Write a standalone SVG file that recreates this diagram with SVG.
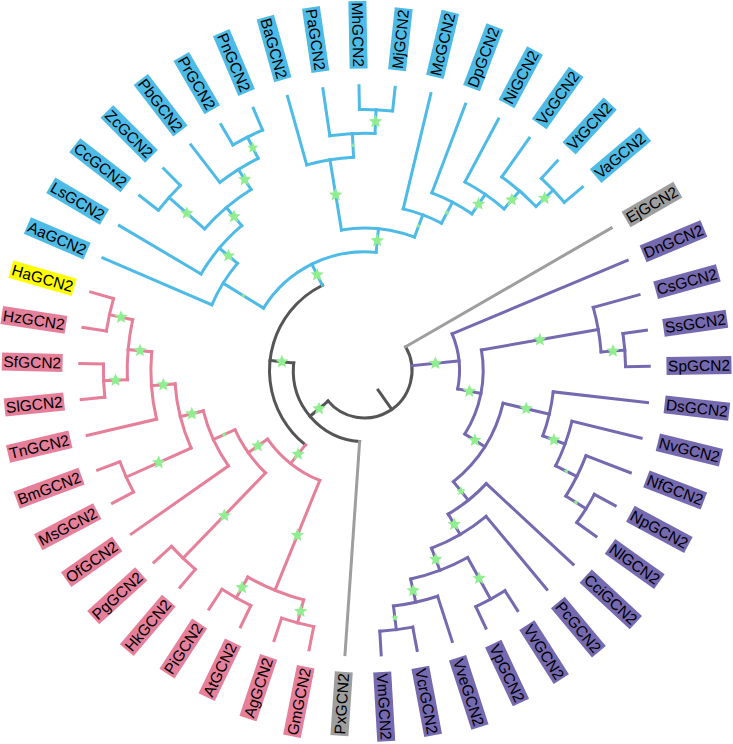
<svg xmlns="http://www.w3.org/2000/svg" xmlns:xlink="http://www.w3.org/1999/xlink" width="733" height="744" viewBox="0 0 733 744">
<defs>
<style>
#connectors line,#connectors circle{fill:none;stroke-width:3;stroke-linecap:square}
.d{stroke:#555555}.g{stroke:#9E9E9E}.b{stroke:#4EBBE6}.p{stroke:#E57F9A}.u{stroke:#7569B0}
.lb{fill:#4EBBE6}.lp{fill:#E57F9A}.lu{fill:#7569B0}.lg{fill:#9E9E9E}.ly{fill:#FFFF00}
text{font-family:"Liberation Sans",Arial,sans-serif;font-size:15.5px;fill:#000000}
.e{text-anchor:end}
</style>
<polygon id="star" fill="#90EE90" points="0,-1 0.265,-0.364 0.951,-0.309 0.428,0.139 0.588,0.809 0,0.45 -0.588,0.809 -0.428,0.139 -0.951,-0.309 -0.265,-0.364"/>
</defs>
<rect width="733" height="744" fill="#FFFFFF"/>
<g transform="translate(364.5,370.5)">
<g id="connectors">
<circle class="d" r="47.5" stroke-dasharray="140.93 2000" transform="rotate(-30)"/>
<circle class="d" r="71.2" stroke-dasharray="114.48 2000" transform="rotate(93.93)"/>
<circle class="d" r="95" stroke-dasharray="191.04 2000" transform="rotate(128.44)"/>
<line class="d" x1="23.8" x2="47.5" transform="rotate(55)"/>
<line class="d" x1="47.5" x2="71.2" transform="rotate(139.99)"/>
<line class="d" x1="71.2" x2="95" transform="rotate(186.05)"/>
<line class="g" x1="47.5" x2="284.8" transform="rotate(-30)"/>
<line class="g" x1="71.2" x2="284.8" transform="rotate(93.93)"/>
<circle class="b" r="118.7" stroke-dasharray="132.38 2000" transform="rotate(211.71)"/>
<circle class="b" r="166.2" stroke-dasharray="48.91 2000" transform="rotate(203.28)"/>
<circle class="b" r="189.9" stroke-dasharray="63.44 2000" transform="rotate(210.57)"/>
<circle class="b" r="213.6" stroke-dasharray="61.16 2000" transform="rotate(221.505)"/>
<circle class="b" r="261.1" stroke-dasharray="33.22 2000" transform="rotate(217.86)"/>
<circle class="b" r="237.3" stroke-dasharray="45.29 2000" transform="rotate(232.44)"/>
<circle class="b" r="261.1" stroke-dasharray="33.22 2000" transform="rotate(239.73)"/>
<circle class="b" r="142.4" stroke-dasharray="74.16 2000" transform="rotate(260.69)"/>
<circle class="b" r="213.6" stroke-dasharray="47.57 2000" transform="rotate(254.31)"/>
<circle class="b" r="237.3" stroke-dasharray="45.29 2000" transform="rotate(261.6)"/>
<circle class="b" r="261.1" stroke-dasharray="33.22 2000" transform="rotate(268.89)"/>
<circle class="b" r="166.2" stroke-dasharray="40.96 2000" transform="rotate(283.47)"/>
<circle class="b" r="189.9" stroke-dasharray="45.31 2000" transform="rotate(290.76)"/>
<circle class="b" r="213.6" stroke-dasharray="47.57 2000" transform="rotate(298.05)"/>
<circle class="b" r="237.3" stroke-dasharray="45.29 2000" transform="rotate(305.34)"/>
<circle class="b" r="261.1" stroke-dasharray="33.22 2000" transform="rotate(312.63)"/>
<line class="b" x1="95" x2="118.7" transform="rotate(243.66)"/>
<line class="b" x1="118.7" x2="166.2" transform="rotate(211.71)"/>
<line class="b" x1="166.2" x2="284.8" transform="rotate(203.28)"/>
<line class="b" x1="166.2" x2="189.9" transform="rotate(220.14)"/>
<line class="b" x1="189.9" x2="284.8" transform="rotate(210.57)"/>
<line class="b" x1="189.9" x2="213.6" transform="rotate(229.71)"/>
<line class="b" x1="213.6" x2="261.1" transform="rotate(221.505)"/>
<line class="b" x1="261.1" x2="284.8" transform="rotate(217.86)"/>
<line class="b" x1="261.1" x2="284.8" transform="rotate(225.15)"/>
<line class="b" x1="213.6" x2="237.3" transform="rotate(237.91)"/>
<line class="b" x1="237.3" x2="284.8" transform="rotate(232.44)"/>
<line class="b" x1="237.3" x2="261.1" transform="rotate(243.375)"/>
<line class="b" x1="261.1" x2="284.8" transform="rotate(239.73)"/>
<line class="b" x1="261.1" x2="284.8" transform="rotate(247.02)"/>
<line class="b" x1="118.7" x2="142.4" transform="rotate(275.61)"/>
<line class="b" x1="142.4" x2="213.6" transform="rotate(260.69)"/>
<line class="b" x1="213.6" x2="284.8" transform="rotate(254.31)"/>
<line class="b" x1="213.6" x2="237.3" transform="rotate(267.07)"/>
<line class="b" x1="237.3" x2="284.8" transform="rotate(261.6)"/>
<line class="b" x1="237.3" x2="261.1" transform="rotate(272.535)"/>
<line class="b" x1="261.1" x2="284.8" transform="rotate(268.89)"/>
<line class="b" x1="261.1" x2="284.8" transform="rotate(276.18)"/>
<line class="b" x1="142.4" x2="166.2" transform="rotate(290.53)"/>
<line class="b" x1="166.2" x2="284.8" transform="rotate(283.47)"/>
<line class="b" x1="166.2" x2="189.9" transform="rotate(297.59)"/>
<line class="b" x1="189.9" x2="284.8" transform="rotate(290.76)"/>
<line class="b" x1="189.9" x2="213.6" transform="rotate(304.43)"/>
<line class="b" x1="213.6" x2="284.8" transform="rotate(298.05)"/>
<line class="b" x1="213.6" x2="237.3" transform="rotate(310.81)"/>
<line class="b" x1="237.3" x2="284.8" transform="rotate(305.34)"/>
<line class="b" x1="237.3" x2="261.1" transform="rotate(316.275)"/>
<line class="b" x1="261.1" x2="284.8" transform="rotate(312.63)"/>
<line class="b" x1="261.1" x2="284.8" transform="rotate(319.92)"/>
<circle class="p" r="118.7" stroke-dasharray="67.49 2000" transform="rotate(112.155)"/>
<circle class="p" r="237.3" stroke-dasharray="60.39 2000" transform="rotate(104.865)"/>
<circle class="p" r="261.1" stroke-dasharray="33.22 2000" transform="rotate(101.22)"/>
<circle class="p" r="261.1" stroke-dasharray="33.22 2000" transform="rotate(115.8)"/>
<circle class="p" r="142.4" stroke-dasharray="53.22 2000" transform="rotate(134.025)"/>
<circle class="p" r="261.1" stroke-dasharray="33.22 2000" transform="rotate(130.38)"/>
<circle class="p" r="166.2" stroke-dasharray="60.8 2000" transform="rotate(144.96)"/>
<circle class="p" r="189.9" stroke-dasharray="66.44 2000" transform="rotate(155.895)"/>
<circle class="p" r="261.1" stroke-dasharray="33.22 2000" transform="rotate(152.25)"/>
<circle class="p" r="213.6" stroke-dasharray="67.94 2000" transform="rotate(166.83)"/>
<circle class="p" r="237.3" stroke-dasharray="60.39 2000" transform="rotate(177.765)"/>
<circle class="p" r="261.1" stroke-dasharray="33.22 2000" transform="rotate(174.12)"/>
<circle class="p" r="261.1" stroke-dasharray="33.22 2000" transform="rotate(188.7)"/>
<line class="p" x1="95" x2="118.7" transform="rotate(128.44)"/>
<line class="p" x1="118.7" x2="237.3" transform="rotate(112.155)"/>
<line class="p" x1="237.3" x2="261.1" transform="rotate(104.865)"/>
<line class="p" x1="261.1" x2="284.8" transform="rotate(101.22)"/>
<line class="p" x1="261.1" x2="284.8" transform="rotate(108.51)"/>
<line class="p" x1="237.3" x2="261.1" transform="rotate(119.445)"/>
<line class="p" x1="261.1" x2="284.8" transform="rotate(115.8)"/>
<line class="p" x1="261.1" x2="284.8" transform="rotate(123.09)"/>
<line class="p" x1="118.7" x2="142.4" transform="rotate(144.73)"/>
<line class="p" x1="142.4" x2="261.1" transform="rotate(134.025)"/>
<line class="p" x1="261.1" x2="284.8" transform="rotate(130.38)"/>
<line class="p" x1="261.1" x2="284.8" transform="rotate(137.67)"/>
<line class="p" x1="142.4" x2="166.2" transform="rotate(155.44)"/>
<line class="p" x1="166.2" x2="284.8" transform="rotate(144.96)"/>
<line class="p" x1="166.2" x2="189.9" transform="rotate(165.92)"/>
<line class="p" x1="189.9" x2="261.1" transform="rotate(155.895)"/>
<line class="p" x1="261.1" x2="284.8" transform="rotate(152.25)"/>
<line class="p" x1="261.1" x2="284.8" transform="rotate(159.54)"/>
<line class="p" x1="189.9" x2="213.6" transform="rotate(175.94)"/>
<line class="p" x1="213.6" x2="284.8" transform="rotate(166.83)"/>
<line class="p" x1="213.6" x2="237.3" transform="rotate(185.055)"/>
<line class="p" x1="237.3" x2="261.1" transform="rotate(177.765)"/>
<line class="p" x1="261.1" x2="284.8" transform="rotate(174.12)"/>
<line class="p" x1="261.1" x2="284.8" transform="rotate(181.41)"/>
<line class="p" x1="237.3" x2="261.1" transform="rotate(192.345)"/>
<line class="p" x1="261.1" x2="284.8" transform="rotate(188.7)"/>
<line class="p" x1="261.1" x2="284.8" transform="rotate(195.99)"/>
<circle class="u" r="95" stroke-dasharray="56.19 2000" transform="rotate(-22.71)"/>
<circle class="u" r="118.7" stroke-dasharray="87.55 2000" transform="rotate(-9.95)"/>
<circle class="u" r="237.3" stroke-dasharray="45.29 2000" transform="rotate(-15.42)"/>
<circle class="u" r="261.1" stroke-dasharray="33.22 2000" transform="rotate(-8.13)"/>
<circle class="u" r="142.4" stroke-dasharray="94.57 2000" transform="rotate(13.28)"/>
<circle class="u" r="189.9" stroke-dasharray="45.31 2000" transform="rotate(6.45)"/>
<circle class="u" r="213.6" stroke-dasharray="47.57 2000" transform="rotate(13.74)"/>
<circle class="u" r="237.3" stroke-dasharray="45.29 2000" transform="rotate(21.03)"/>
<circle class="u" r="261.1" stroke-dasharray="33.22 2000" transform="rotate(28.32)"/>
<circle class="u" r="166.2" stroke-dasharray="48.91 2000" transform="rotate(42.9)"/>
<circle class="u" r="189.9" stroke-dasharray="63.44 2000" transform="rotate(50.19)"/>
<circle class="u" r="213.6" stroke-dasharray="61.16 2000" transform="rotate(61.125)"/>
<circle class="u" r="261.1" stroke-dasharray="33.22 2000" transform="rotate(57.48)"/>
<circle class="u" r="237.3" stroke-dasharray="45.29 2000" transform="rotate(72.06)"/>
<circle class="u" r="261.1" stroke-dasharray="33.22 2000" transform="rotate(79.35)"/>
<line class="u" x1="47.5" x2="95" transform="rotate(-5.765)"/>
<line class="u" x1="95" x2="284.8" transform="rotate(-22.71)"/>
<line class="u" x1="95" x2="118.7" transform="rotate(11.18)"/>
<line class="u" x1="118.7" x2="237.3" transform="rotate(-9.95)"/>
<line class="u" x1="237.3" x2="284.8" transform="rotate(-15.42)"/>
<line class="u" x1="237.3" x2="261.1" transform="rotate(-4.485)"/>
<line class="u" x1="261.1" x2="284.8" transform="rotate(-8.13)"/>
<line class="u" x1="261.1" x2="284.8" transform="rotate(-0.84)"/>
<line class="u" x1="118.7" x2="142.4" transform="rotate(32.31)"/>
<line class="u" x1="142.4" x2="189.9" transform="rotate(13.28)"/>
<line class="u" x1="189.9" x2="284.8" transform="rotate(6.45)"/>
<line class="u" x1="189.9" x2="213.6" transform="rotate(20.12)"/>
<line class="u" x1="213.6" x2="284.8" transform="rotate(13.74)"/>
<line class="u" x1="213.6" x2="237.3" transform="rotate(26.5)"/>
<line class="u" x1="237.3" x2="284.8" transform="rotate(21.03)"/>
<line class="u" x1="237.3" x2="261.1" transform="rotate(31.965)"/>
<line class="u" x1="261.1" x2="284.8" transform="rotate(28.32)"/>
<line class="u" x1="261.1" x2="284.8" transform="rotate(35.61)"/>
<line class="u" x1="142.4" x2="166.2" transform="rotate(51.33)"/>
<line class="u" x1="166.2" x2="284.8" transform="rotate(42.9)"/>
<line class="u" x1="166.2" x2="189.9" transform="rotate(59.76)"/>
<line class="u" x1="189.9" x2="284.8" transform="rotate(50.19)"/>
<line class="u" x1="189.9" x2="213.6" transform="rotate(69.33)"/>
<line class="u" x1="213.6" x2="261.1" transform="rotate(61.125)"/>
<line class="u" x1="261.1" x2="284.8" transform="rotate(57.48)"/>
<line class="u" x1="261.1" x2="284.8" transform="rotate(64.77)"/>
<line class="u" x1="213.6" x2="237.3" transform="rotate(77.53)"/>
<line class="u" x1="237.3" x2="284.8" transform="rotate(72.06)"/>
<line class="u" x1="237.3" x2="261.1" transform="rotate(82.995)"/>
<line class="u" x1="261.1" x2="284.8" transform="rotate(79.35)"/>
<line class="u" x1="261.1" x2="284.8" transform="rotate(86.64)"/>
</g>
<g id="support">
<use xlink:href="#star" transform="rotate(139.99) translate(59.35,0) rotate(-139.99) scale(7)"/>
<use xlink:href="#star" transform="rotate(186.05) translate(83.1,0) rotate(-186.05) scale(7)"/>
<use xlink:href="#star" transform="rotate(243.66) translate(106.85,0) rotate(-243.66) scale(7)"/>
<use xlink:href="#star" transform="rotate(128.44) translate(106.85,0) rotate(-128.44) scale(7)"/>
<use xlink:href="#star" transform="rotate(-5.765) translate(71.25,0) rotate(5.765) scale(7)"/>
<use xlink:href="#star" transform="rotate(211.71) translate(142.45,0) rotate(-211.71) scale(2.5)"/>
<use xlink:href="#star" transform="rotate(220.14) translate(178.05,0) rotate(-220.14) scale(7)"/>
<use xlink:href="#star" transform="rotate(229.71) translate(201.75,0) rotate(-229.71) scale(7)"/>
<use xlink:href="#star" transform="rotate(221.505) translate(237.35,0) rotate(-221.505) scale(7)"/>
<use xlink:href="#star" transform="rotate(237.91) translate(225.45,0) rotate(-237.91) scale(7)"/>
<use xlink:href="#star" transform="rotate(243.375) translate(249.2,0) rotate(-243.375) scale(6)"/>
<use xlink:href="#star" transform="rotate(275.61) translate(130.55,0) rotate(-275.61) scale(7)"/>
<use xlink:href="#star" transform="rotate(260.69) translate(178,0) rotate(-260.69) scale(7)"/>
<use xlink:href="#star" transform="rotate(267.07) translate(225.45,0) rotate(-267.07) scale(2.5)"/>
<use xlink:href="#star" transform="rotate(272.535) translate(249.2,0) rotate(-272.535) scale(7)"/>
<use xlink:href="#star" transform="rotate(290.53) translate(154.3,0) rotate(-290.53) scale(2.5)"/>
<use xlink:href="#star" transform="rotate(297.59) translate(178.05,0) rotate(-297.59) scale(3)"/>
<use xlink:href="#star" transform="rotate(304.43) translate(201.75,0) rotate(-304.43) scale(7)"/>
<use xlink:href="#star" transform="rotate(310.81) translate(225.45,0) rotate(-310.81) scale(7)"/>
<use xlink:href="#star" transform="rotate(316.275) translate(249.2,0) rotate(-316.275) scale(7)"/>
<use xlink:href="#star" transform="rotate(144.73) translate(130.55,0) rotate(-144.73) scale(7)"/>
<use xlink:href="#star" transform="rotate(155.44) translate(154.3,0) rotate(-155.44) scale(3)"/>
<use xlink:href="#star" transform="rotate(165.92) translate(178.05,0) rotate(-165.92) scale(7)"/>
<use xlink:href="#star" transform="rotate(175.94) translate(201.75,0) rotate(-175.94) scale(7)"/>
<use xlink:href="#star" transform="rotate(185.055) translate(225.45,0) rotate(-185.055) scale(7)"/>
<use xlink:href="#star" transform="rotate(192.345) translate(249.2,0) rotate(-192.345) scale(7)"/>
<use xlink:href="#star" transform="rotate(177.765) translate(249.2,0) rotate(-177.765) scale(7)"/>
<use xlink:href="#star" transform="rotate(155.895) translate(225.5,0) rotate(-155.895) scale(7)"/>
<use xlink:href="#star" transform="rotate(134.025) translate(201.75,0) rotate(-134.025) scale(7)"/>
<use xlink:href="#star" transform="rotate(112.155) translate(178,0) rotate(-112.155) scale(7)"/>
<use xlink:href="#star" transform="rotate(119.445) translate(249.2,0) rotate(-119.445) scale(7)"/>
<use xlink:href="#star" transform="rotate(104.865) translate(249.2,0) rotate(-104.865) scale(7)"/>
<use xlink:href="#star" transform="rotate(11.18) translate(106.85,0) rotate(-11.18) scale(7)"/>
<use xlink:href="#star" transform="rotate(-9.95) translate(178,0) rotate(9.95) scale(7)"/>
<use xlink:href="#star" transform="rotate(-4.485) translate(249.2,0) rotate(4.485) scale(7)"/>
<use xlink:href="#star" transform="rotate(32.31) translate(130.55,0) rotate(-32.31) scale(7)"/>
<use xlink:href="#star" transform="rotate(13.28) translate(166.15,0) rotate(-13.28) scale(7)"/>
<use xlink:href="#star" transform="rotate(20.12) translate(201.75,0) rotate(-20.12) scale(7)"/>
<use xlink:href="#star" transform="rotate(26.5) translate(225.45,0) rotate(-26.5) scale(3)"/>
<use xlink:href="#star" transform="rotate(31.965) translate(249.2,0) rotate(-31.965) scale(3)"/>
<use xlink:href="#star" transform="rotate(51.33) translate(154.3,0) rotate(-51.33) scale(5)"/>
<use xlink:href="#star" transform="rotate(59.76) translate(178.05,0) rotate(-59.76) scale(7)"/>
<use xlink:href="#star" transform="rotate(69.33) translate(201.75,0) rotate(-69.33) scale(7)"/>
<use xlink:href="#star" transform="rotate(77.53) translate(225.45,0) rotate(-77.53) scale(7)"/>
<use xlink:href="#star" transform="rotate(82.995) translate(249.2,0) rotate(-82.995) scale(4)"/>
<use xlink:href="#star" transform="rotate(61.125) translate(237.35,0) rotate(-61.125) scale(7)"/>
</g>
<g id="labels">
<g id="EjGCN2" transform="rotate(-30) translate(302,0)"><rect class="lg" x="0" y="-9" width="59.8" height="18"/><text x="1.5" y="5.5">EjGCN2</text></g>
<g id="DnGCN2" transform="rotate(-22.71) translate(302,0)"><rect class="lu" x="0" y="-9" width="65.9" height="18"/><text x="1.5" y="5.5">DnGCN2</text></g>
<g id="CsGCN2" transform="rotate(-15.42) translate(302,0)"><rect class="lu" x="0" y="-9" width="65" height="18"/><text x="1.5" y="5.5">CsGCN2</text></g>
<g id="SsGCN2" transform="rotate(-8.13) translate(302,0)"><rect class="lu" x="0" y="-9" width="64.1" height="18"/><text x="1.5" y="5.5">SsGCN2</text></g>
<g id="SpGCN2" transform="rotate(-0.84) translate(302,0)"><rect class="lu" x="0" y="-9" width="65" height="18"/><text x="1.5" y="5.5">SpGCN2</text></g>
<g id="DsGCN2" transform="rotate(6.45) translate(302,0)"><rect class="lu" x="0" y="-9" width="65" height="18"/><text x="1.5" y="5.5">DsGCN2</text></g>
<g id="NvGCN2" transform="rotate(13.74) translate(302,0)"><rect class="lu" x="0" y="-9" width="65" height="18"/><text x="1.5" y="5.5">NvGCN2</text></g>
<g id="NfGCN2" transform="rotate(21.03) translate(302,0)"><rect class="lu" x="0" y="-9" width="61.6" height="18"/><text x="1.5" y="5.5">NfGCN2</text></g>
<g id="NpGCN2" transform="rotate(28.32) translate(302,0)"><rect class="lu" x="0" y="-9" width="65.9" height="18"/><text x="1.5" y="5.5">NpGCN2</text></g>
<g id="NlGCN2" transform="rotate(35.61) translate(302,0)"><rect class="lu" x="0" y="-9" width="60.7" height="18"/><text x="1.5" y="5.5">NlGCN2</text></g>
<g id="CciGCN2" transform="rotate(42.9) translate(302,0)"><rect class="lu" x="0" y="-9" width="68.4" height="18"/><text x="1.5" y="5.5">CciGCN2</text></g>
<g id="PcGCN2" transform="rotate(50.19) translate(302,0)"><rect class="lu" x="0" y="-9" width="64.1" height="18"/><text x="1.5" y="5.5">PcGCN2</text></g>
<g id="VvGCN2" transform="rotate(57.48) translate(302,0)"><rect class="lu" x="0" y="-9" width="64.1" height="18"/><text x="1.5" y="5.5">VvGCN2</text></g>
<g id="VpGCN2" transform="rotate(64.77) translate(302,0)"><rect class="lu" x="0" y="-9" width="65" height="18"/><text x="1.5" y="5.5">VpGCN2</text></g>
<g id="VveGCN2" transform="rotate(72.06) translate(302,0)"><rect class="lu" x="0" y="-9" width="72.8" height="18"/><text x="1.5" y="5.5">VveGCN2</text></g>
<g id="VcrGCN2" transform="rotate(79.35) translate(302,0)"><rect class="lu" x="0" y="-9" width="69.3" height="18"/><text x="1.5" y="5.5">VcrGCN2</text></g>
<g id="VmGCN2" transform="rotate(86.64) translate(302,0)"><rect class="lu" x="0" y="-9" width="69.3" height="18"/><text x="1.5" y="5.5">VmGCN2</text></g>
<g id="PxGCN2" transform="rotate(93.93) translate(302,0) rotate(180)"><rect class="lg" x="-64.1" y="-9" width="64.1" height="18"/><text class="e" x="-1.5" y="5.5">PxGCN2</text></g>
<g id="GmGCN2" transform="rotate(101.22) translate(302,0) rotate(180)"><rect class="lp" x="-71" y="-9" width="71" height="18"/><text class="e" x="-1.5" y="5.5">GmGCN2</text></g>
<g id="AgGCN2" transform="rotate(108.51) translate(302,0) rotate(180)"><rect class="lp" x="-65" y="-9" width="65" height="18"/><text class="e" x="-1.5" y="5.5">AgGCN2</text></g>
<g id="AtGCN2" transform="rotate(115.8) translate(302,0) rotate(180)"><rect class="lp" x="-60.7" y="-9" width="60.7" height="18"/><text class="e" x="-1.5" y="5.5">AtGCN2</text></g>
<g id="PiGCN2" transform="rotate(123.09) translate(302,0) rotate(180)"><rect class="lp" x="-59.8" y="-9" width="59.8" height="18"/><text class="e" x="-1.5" y="5.5">PiGCN2</text></g>
<g id="HkGCN2" transform="rotate(130.38) translate(302,0) rotate(180)"><rect class="lp" x="-65" y="-9" width="65" height="18"/><text class="e" x="-1.5" y="5.5">HkGCN2</text></g>
<g id="PgGCN2" transform="rotate(137.67) translate(302,0) rotate(180)"><rect class="lp" x="-65" y="-9" width="65" height="18"/><text class="e" x="-1.5" y="5.5">PgGCN2</text></g>
<g id="OfGCN2" transform="rotate(144.96) translate(302,0) rotate(180)"><rect class="lp" x="-62.4" y="-9" width="62.4" height="18"/><text class="e" x="-1.5" y="5.5">OfGCN2</text></g>
<g id="MsGCN2" transform="rotate(152.25) translate(302,0) rotate(180)"><rect class="lp" x="-66.7" y="-9" width="66.7" height="18"/><text class="e" x="-1.5" y="5.5">MsGCN2</text></g>
<g id="BmGCN2" transform="rotate(159.54) translate(302,0) rotate(180)"><rect class="lp" x="-69.3" y="-9" width="69.3" height="18"/><text class="e" x="-1.5" y="5.5">BmGCN2</text></g>
<g id="TnGCN2" transform="rotate(166.83) translate(302,0) rotate(180)"><rect class="lp" x="-64.1" y="-9" width="64.1" height="18"/><text class="e" x="-1.5" y="5.5">TnGCN2</text></g>
<g id="SlGCN2" transform="rotate(174.12) translate(302,0) rotate(180)"><rect class="lp" x="-59.8" y="-9" width="59.8" height="18"/><text class="e" x="-1.5" y="5.5">SlGCN2</text></g>
<g id="SfGCN2" transform="rotate(181.41) translate(302,0) rotate(180)"><rect class="lp" x="-60.7" y="-9" width="60.7" height="18"/><text class="e" x="-1.5" y="5.5">SfGCN2</text></g>
<g id="HzGCN2" transform="rotate(188.7) translate(302,0) rotate(180)"><rect class="lp" x="-65" y="-9" width="65" height="18"/><text class="e" x="-1.5" y="5.5">HzGCN2</text></g>
<g id="HaGCN2" transform="rotate(195.99) translate(302,0) rotate(180)"><rect class="ly" x="-65.9" y="-9" width="65.9" height="18"/><text class="e" x="-1.5" y="5.5">HaGCN2</text></g>
<g id="AaGCN2" transform="rotate(203.28) translate(302,0) rotate(180)"><rect class="lb" x="-65" y="-9" width="65" height="18"/><text class="e" x="-1.5" y="5.5">AaGCN2</text></g>
<g id="LsGCN2" transform="rotate(210.57) translate(302,0) rotate(180)"><rect class="lb" x="-62.4" y="-9" width="62.4" height="18"/><text class="e" x="-1.5" y="5.5">LsGCN2</text></g>
<g id="CcGCN2" transform="rotate(217.86) translate(302,0) rotate(180)"><rect class="lb" x="-65" y="-9" width="65" height="18"/><text class="e" x="-1.5" y="5.5">CcGCN2</text></g>
<g id="ZcGCN2" transform="rotate(225.15) translate(302,0) rotate(180)"><rect class="lb" x="-63.3" y="-9" width="63.3" height="18"/><text class="e" x="-1.5" y="5.5">ZcGCN2</text></g>
<g id="PbGCN2" transform="rotate(232.44) translate(302,0) rotate(180)"><rect class="lb" x="-65" y="-9" width="65" height="18"/><text class="e" x="-1.5" y="5.5">PbGCN2</text></g>
<g id="PrGCN2" transform="rotate(239.73) translate(302,0) rotate(180)"><rect class="lb" x="-61.6" y="-9" width="61.6" height="18"/><text class="e" x="-1.5" y="5.5">PrGCN2</text></g>
<g id="PnGCN2" transform="rotate(247.02) translate(302,0) rotate(180)"><rect class="lb" x="-65" y="-9" width="65" height="18"/><text class="e" x="-1.5" y="5.5">PnGCN2</text></g>
<g id="BaGCN2" transform="rotate(254.31) translate(302,0) rotate(180)"><rect class="lb" x="-65" y="-9" width="65" height="18"/><text class="e" x="-1.5" y="5.5">BaGCN2</text></g>
<g id="PaGCN2" transform="rotate(261.6) translate(302,0) rotate(180)"><rect class="lb" x="-65" y="-9" width="65" height="18"/><text class="e" x="-1.5" y="5.5">PaGCN2</text></g>
<g id="MhGCN2" transform="rotate(268.89) translate(302,0) rotate(180)"><rect class="lb" x="-67.6" y="-9" width="67.6" height="18"/><text class="e" x="-1.5" y="5.5">MhGCN2</text></g>
<g id="MjGCN2" transform="rotate(276.18) translate(302,0)"><rect class="lb" x="0" y="-9" width="62.4" height="18"/><text x="1.5" y="5.5">MjGCN2</text></g>
<g id="McGCN2" transform="rotate(283.47) translate(302,0)"><rect class="lb" x="0" y="-9" width="66.7" height="18"/><text x="1.5" y="5.5">McGCN2</text></g>
<g id="DpGCN2" transform="rotate(290.76) translate(302,0)"><rect class="lb" x="0" y="-9" width="65.9" height="18"/><text x="1.5" y="5.5">DpGCN2</text></g>
<g id="NiGCN2" transform="rotate(298.05) translate(302,0)"><rect class="lb" x="0" y="-9" width="60.7" height="18"/><text x="1.5" y="5.5">NiGCN2</text></g>
<g id="VcGCN2" transform="rotate(305.34) translate(302,0)"><rect class="lb" x="0" y="-9" width="64.1" height="18"/><text x="1.5" y="5.5">VcGCN2</text></g>
<g id="VtGCN2" transform="rotate(312.63) translate(302,0)"><rect class="lb" x="0" y="-9" width="60.7" height="18"/><text x="1.5" y="5.5">VtGCN2</text></g>
<g id="VaGCN2" transform="rotate(319.92) translate(302,0)"><rect class="lb" x="0" y="-9" width="65" height="18"/><text x="1.5" y="5.5">VaGCN2</text></g>
</g>
</g>
</svg>
